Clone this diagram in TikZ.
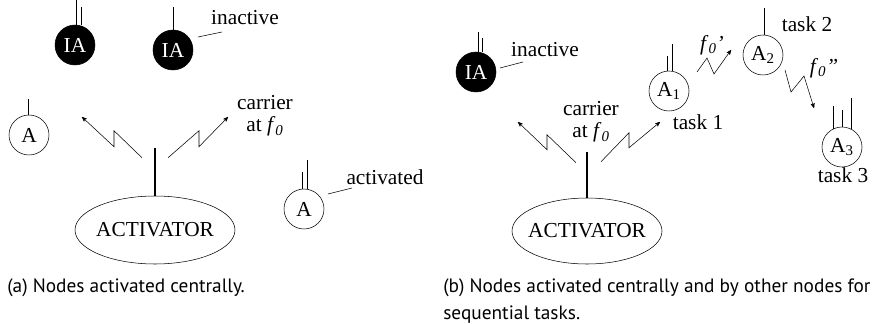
\documentclass[tikz,border=0pt]{standalone}
\usepackage{fontspec}
\setmainfont{Liberation Serif}
\newfontfamily\capfont{PT Sans}
\usepackage{tikz}
\usetikzlibrary{arrows,calc,shapes.geometric}
\newcommand{\freq}[1]{\textit{f}\textsubscript{\textit{0}}\textit{#1}}

\begin{document}
\begin{tikzpicture}[x=0.75pt,y=-0.75pt]
    \tikzstyle{every node}=[font=\fontsize{16}{16.5}\selectfont]
    \tikzstyle{act}=[draw, circle, minimum size=30pt, inner sep=0pt]
    \tikzstyle{inact}=[act, fill=black, text=white]
    \tikzstyle{activator}=[draw, ellipse, inner sep=0pt, label=center:ACTIVATOR]
    \tikzstyle{carrier}=[->, >=stealth']
    \tikzstyle{stem}=[line width=1.5pt]
    \tikzstyle{caption}=[font=\capfont\fontsize{14.5}{20}\selectfont, inner sep=0pt, align=left]
    \useasboundingbox (0,0) rectangle (877,324);

    % (a) central activation
    \node[activator, minimum width=120pt, minimum height=51pt] (ActA) at (155,230) {}; %
    \node[inact] (IA1) at (75,45) {IA}; %
    \node[inact] (IA2) at (173,50) {IA}; %
    \node[act] (Aa) at (29,135) {A}; %
    \node[act] (Aon) at (304,209) {A}; %
    \node (inA) at ($(IA2)+(72,-32)$) {inactive}; %
    \node (onA) at ($(Aon)+(81,-32)$) {activated}; %
    \node[align=center] (carA) at (265,116) {carrier\\at \freq{}}; %
    \draw[stem] (ActA.north) -- ++(0,-48) coordinate (topA); %
    \draw ($(IA1.north)+(1,0)$) -- ++(0,-25); %
    \draw ($(IA1.north)+(6,0)$) -- ++(0,-18); %
    \draw (IA2.north) -- ++(0,-23); %
    \draw ($(Aa.north)+(-1,0)$) -- ++(0,-16); %
    \draw ($(Aon.north)+(-2,0)$) -- ++(0,-17); %
    \draw ($(Aon.north)+(3,0)$) -- ++(0,-29); %
    \draw ($(IA2)+(25,-13)$) -- ++(24,-5); %
    \draw ($(Aon)+(24,-15)$) -- ++(24,-6); %
    \coordinate (la0) at ($(topA)+(-13,10)$); %
    \coordinate (la1) at (82,117); %
    \coordinate (ra0) at ($(topA)+(13,10)$); %
    \coordinate (ra1) at (228,117); %
    \draw[carrier] (la0) -- ++(-28,-27) -- ++(0,16) -- (la1); %
    \draw[carrier] (ra0) -- ++(31,-27) -- ++(0,16) -- (ra1); %
    \node[caption, anchor=base west] (capA) at (7,292) {(a) Nodes activated centrally.}; %

    % (b) central and node-to-node activation
    \node[activator, minimum width=112.5pt, minimum height=49.5pt] (ActB) at (587,231) {}; %
    \node[inact] (IA3) at (476,72) {IA}; %
    \node[act] (A1) at (669,91) {A\textsubscript{1}}; %
    \node[act] (A2) at (763,55) {A\textsubscript{2}}; %
    \node[act] (A3) at (842,147) {A\textsubscript{3}}; %
    \node (inB) at ($(IA3)+(69,-22)$) {inactive}; %
    \node[align=center] (carB) at (591,122) {carrier\\at \freq{}}; %
    \node (t1) at ($(A1)+(29,31)$) {task 1}; %
    \node (t2) at ($(A2)+(44,-31)$) {task 2}; %
    \node (t3) at ($(A3)+(1,28)$) {task 3}; %
    \node (fa) at (712,45) {\freq{'}}; %
    \node (fb) at (824,68) {\freq{''}}; %
    \draw[stem] (ActB.north) -- ++(0,-46) coordinate (topB); %
    \draw ($(IA3.north)+(2,0)$) -- ++(0,-20); %
    \draw ($(IA3.north)+(6,0)$) -- ++(0,-14); %
    \draw ($(A1.north)+(-2,0)$) -- ++(0,-15); %
    \draw ($(A1.north)+(3,0)$) -- ++(0,-27); %
    \draw ($(A2.north)+(1,0)$) -- ++(0,-27); %
    \draw (A3.117) -- ++(0,-23); %
    \draw (A3.north) -- ++(0,-17); %
    \draw (A3.63) -- ++(0,-31); %
    \draw ($(IA3)+(24,-4)$) -- ++(23,-6); %
    \coordinate (lb0) at ($(topB)+(-11,11)$); %
    \coordinate (lb1) at (518,122); %
    \coordinate (rb0) at ($(topB)+(14,10)$); %
    \coordinate (rb1) at (660,122); %
    \draw[carrier] (lb0) -- ++(-29,-28) -- ++(0,15) -- (lb1); %
    \draw[carrier] (rb0) -- ++(28,-29) -- ++(0,15) -- (rb1); %
    \coordinate (f1a) at (697,72); %
    \coordinate (f1b) at (731,50); %
    \draw[carrier] (f1a) -- ++(10,-14) -- ++(7,16) -- (f1b); %
    \coordinate (f2a) at (785,70); %
    \coordinate (f2b) at (814,108); %
    \draw[carrier] (f2a) -- ++(6,22) -- ++(13,-16) -- (f2b); %
    \node[caption, anchor=base west] (capB) at (443,319) {(b) Nodes activated centrally and by other nodes for\\sequential tasks.}; %
\end{tikzpicture}
\end{document}
